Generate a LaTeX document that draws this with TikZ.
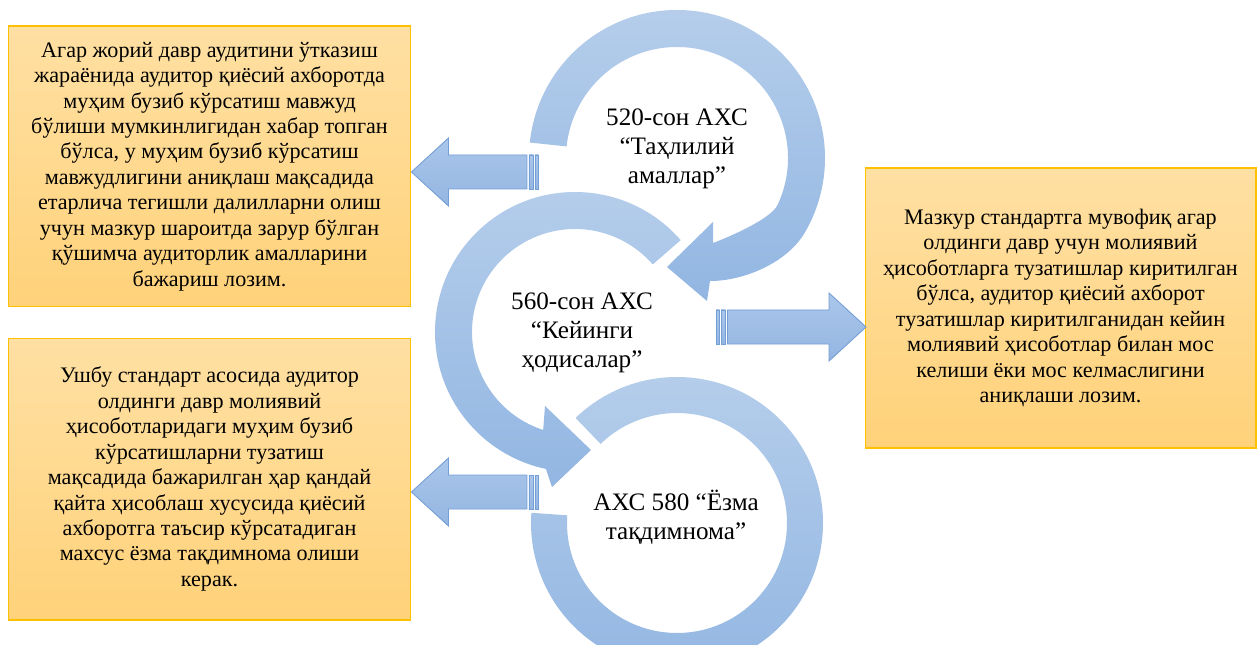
\documentclass[tikz,border=0pt]{standalone}
\usepackage{fontspec}
\setmainfont{Liberation Serif}
\usetikzlibrary{calc}

\definecolor{boxtop}{RGB}{255,224,163}
\definecolor{boxbottom}{RGB}{255,210,122}
\definecolor{boxline}{RGB}{255,192,0}
\definecolor{ringtop}{RGB}{182,206,235}
\definecolor{ringbottom}{RGB}{146,182,226}
\definecolor{arrowtop}{RGB}{170,198,234}
\definecolor{arrowbottom}{RGB}{148,182,226}
\definecolor{arrowline}{RGB}{115,158,214}

% striped block arrow: tip, direction (1 right, -1 left), length
\newcommand{\stripedarrow}[3]{%
	\begin{scope}[shift={(#1)}, xscale=#2]
		\path[blockarrow] (0,0) -- (-37,-34) -- (-37,-17) -- (-#3+11.5,-17)
			-- (-#3+11.5,17) -- (-37,17) -- (-37,34) -- cycle;
		\path[blockarrow] (-#3+9.5,-17) rectangle (-#3+5,17);
		\path[blockarrow] (-#3+3.5,-17) rectangle (-#3,17);
	\end{scope}}

\begin{document}
\begin{tikzpicture}[
		x=0.02cm, y=-0.02cm,
		textbox/.style={
			draw=boxline,
			line width=0.6pt,
			top color=boxtop,
			bottom color=boxbottom,
			align=center,
			inner sep=0pt,
			font=\fontsize{12.6}{14.5}\selectfont
		},
		ringlabel/.style={align=center, font=\fontsize{14.3}{16.5}\selectfont},
		ring/.style={top color=ringtop, bottom color=ringbottom},
		blockarrow/.style={draw=arrowline, line width=0.5pt, top color=arrowtop, bottom color=arrowbottom}
		]
		
		\useasboundingbox (0,0) rectangle (1258,645);
		\fill[white] (0,0) rectangle (1258,645);
		\clip (0,0) rectangle (1258,645);
		
		\coordinate (c520) at (677,158);
		\coordinate (c560) at (575,332);
		\coordinate (c580) at (677,523);
		
		\begin{scope}[shift={(c520)}]
			\path[ring] (186:148) arc[start angle=186, end angle=390, radius=148]
				.. controls (111,104) and (68,123) .. (33,123)
				-- (30,143) -- (-10,109) -- (36,64) -- (36,85)
				.. controls (52,79) and (94,61) .. (25:111)
				arc[start angle=25, end angle=-174, radius=111] -- cycle;
		\end{scope}
		\begin{scope}[shift={(c560)}]
			\path[ring] (319:140) arc[start angle=319, end angle=102, radius=140]
				-- (-23,155) -- (16,118) -- (-30,74) -- (108:103)
				arc[start angle=108, end angle=319, radius=103] -- cycle;
		\end{scope}
		\begin{scope}[shift={(c580)}]
			\path[ring] (226:146) arc[start angle=226, end angle=544, radius=146]
				-- (544:110) arc[start angle=544, end angle=226, radius=110] -- cycle;
		\end{scope}
		
		\node[ringlabel] (ahs520) at (677,149) {520-сон АХС\\“Таҳлилий\\амаллар”};
		\node[ringlabel] (ahs560) at (582,333) {560-сон АХС\\“Кейинги\\ҳодисалар”};
		\node[ringlabel] (ahs580) at (676,517) {АХС 580 “Ёзма\\тақдимнома”};
		
		\node[textbox, minimum width=8.06cm, minimum height=5.62cm] (agar) at (209.5,166.5) {
			Агар жорий давр аудитини ўтказиш\\
			жараёнида аудитор қиёсий ахборотда\\
			муҳим бузиб кўрсатиш мавжуд\\
			бўлиши мумкинлигидан хабар топган\\
			бўлса, у муҳим бузиб кўрсатиш\\
			мавжудлигини аниқлаш мақсадида\\
			етарлича тегишли далилларни олиш\\
			учун мазкур шароитда зарур бўлган\\
			қўшимча аудиторлик амалларини\\
			бажариш лозим.};
		\node[textbox, minimum width=8.06cm, minimum height=5.64cm] (ushbu) at (209.5,479) {
			Ушбу стандарт асосида аудитор\\
			олдинги давр молиявий\\
			ҳисоботларидаги муҳим бузиб\\
			кўрсатишларни тузатиш\\
			мақсадида бажарилган ҳар қандай\\
			қайта ҳисоблаш хусусида қиёсий\\
			ахборотга таъсир кўрсатадиган\\
			махсус ёзма тақдимнома олиши\\
			керак.};
		\node[textbox, minimum width=7.82cm, minimum height=5.6cm] (mazkur) at (1060.5,308) {
			Мазкур стандартга мувофиқ агар\\
			олдинги давр учун молиявий\\
			ҳисоботларга тузатишлар киритилган\\
			бўлса, аудитор қиёсий ахборот\\
			тузатишлар киритилганидан кейин\\
			молиявий ҳисоботлар билан мос\\
			келиши ёки мос келмаслигини\\
			аниқлаши лозим.};
		
		\coordinate (tipA) at ($(agar.east)+(0,5.5)$);
		\coordinate (tipB) at ($(ushbu.east)+(0,13)$);
		\coordinate (tipC) at ($(mazkur.west)+(1.5,19)$);
		\stripedarrow{tipA}{-1}{127}
		\stripedarrow{tipB}{-1}{127}
		\stripedarrow{tipC}{1}{150}
		
	\end{tikzpicture}
\end{document}
